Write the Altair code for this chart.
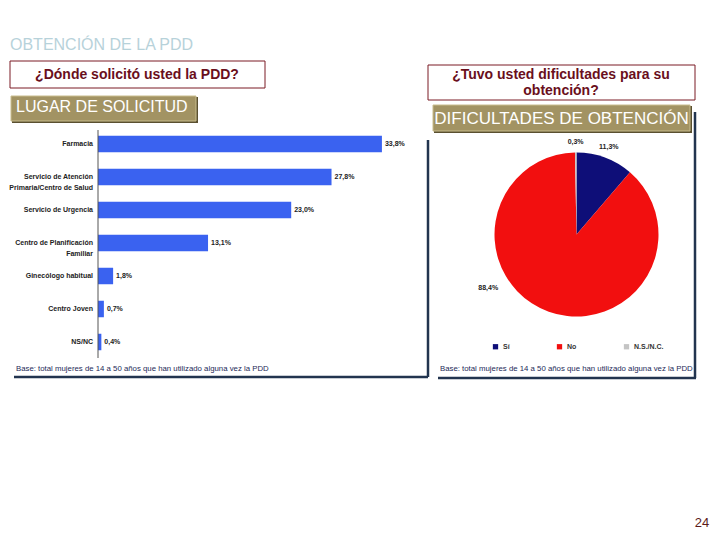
import altair as alt
import pandas as pd

# ---------------- data ----------------
categorias = ["Farmacia", "Servicio de Atención Primaria/Centro de Salud", "Servicio de Urgencia",
              "Centro de Planificación Familiar", "Ginecólogo habitual", "Centro Joven", "NS/NC"]
etiquetas = ["Farmacia", "Servicio de Atención\nPrimaria/Centro de Salud", "Servicio de Urgencia",
             "Centro de Planificación\nFamiliar", "Ginecólogo habitual", "Centro Joven", "NS/NC"]
valores = [33.8, 27.8, 23.0, 13.1, 1.8, 0.7, 0.4]

pie_cats = ["Sí", "No", "N.S./N.C."]
pie_vals = [11.3, 88.4, 0.3]
pie_colors = ["#0e0e78", "#f20f0f", "#c4c4c4"]

titulo = "OBTENCIÓN DE LA PDD"
pregunta1 = "¿Dónde solicitó usted la PDD?"
pregunta2 = ["¿Tuvo usted dificultades para su", "obtención?"]
caja1 = "LUGAR DE SOLICITUD"
caja2 = "DIFICULTADES DE OBTENCIÓN"
base_txt = "Base: total mujeres de 14 a 50 años que han utilizado alguna vez la PDD"
pagina = "24"


def fmt(v):
    return f"{v:.1f}".replace(".", ",") + "%"


bars_df = pd.DataFrame({
    "cat": categorias,
    "etiqueta": etiquetas,
    "valor": valores,
    "txt": [fmt(v) for v in valores],
})
pie_df = pd.DataFrame({
    "cat": pie_cats,
    "valor": pie_vals,
    "idx": list(range(len(pie_cats))),
    "txt": [fmt(v) for v in pie_vals],
})


def P(v):  # page pixel -> chart pixel (8px page margin)
    return v - 8


FONT = "Liberation Sans"
deco = alt.Chart(alt.Data(values=[{}]))

layers = []

# title
layers.append(deco.mark_text(text=titulo, font=FONT, fontSize=16, color="#b7d2da",
                             align="left", baseline="middle")
              .encode(x=alt.value(P(10)), y=alt.value(P(45))))


# question boxes
def qbox(x0, x1, y0, y1):
    return deco.mark_rect(fill="white", stroke="#7b1a24", strokeWidth=1).encode(
        x=alt.value(P(x0)), x2=alt.value(P(x1)), y=alt.value(P(y0)), y2=alt.value(P(y1)))


layers.append(qbox(10, 265, 61, 88))
layers.append(deco.mark_text(text=pregunta1, font=FONT, fontSize=14, fontWeight="bold",
                             color="#6a0f1c", align="center", baseline="middle")
              .encode(x=alt.value(P(137)), y=alt.value(P(75))))
layers.append(qbox(428, 695, 65, 100))
layers.append(deco.mark_text(text=pregunta2, font=FONT, fontSize=14, fontWeight="bold",
                             color="#6a0f1c", align="center", baseline="middle", lineHeight=16)
              .encode(x=alt.value(P(561)), y=alt.value(P(75))))


# gold boxes
def gbox(x0, x1, y0, y1):
    shadow = deco.mark_rect(fill="#5a5030").encode(
        x=alt.value(P(x0 + 1)), x2=alt.value(P(x1 + 2)), y=alt.value(P(y0 + 1)), y2=alt.value(P(y1 + 2)))
    box = deco.mark_rect(fill="#a29363", stroke="#c9bd8e", strokeWidth=1).encode(
        x=alt.value(P(x0)), x2=alt.value(P(x1)), y=alt.value(P(y0)), y2=alt.value(P(y1)))
    return [shadow, box]


layers += gbox(11, 196, 96, 121)
layers.append(deco.mark_text(text=caja1, font=FONT, fontSize=16, color="white",
                             align="left", baseline="middle")
              .encode(x=alt.value(P(16)), y=alt.value(P(107))))
layers += gbox(433, 690, 105, 131)
layers.append(deco.mark_text(text=caja2, font=FONT, fontSize=17, color="white",
                             align="center", baseline="middle")
              .encode(x=alt.value(P(561.5)), y=alt.value(P(119))))

# panel shadow lines
SH = "#22344f"
layers.append(deco.mark_rule(color=SH, strokeWidth=2.5).encode(
    x=alt.value(P(428)), y=alt.value(P(140)), y2=alt.value(P(377))))
layers.append(deco.mark_rule(color=SH, strokeWidth=2.5).encode(
    x=alt.value(P(14)), x2=alt.value(P(428)), y=alt.value(P(377))))
layers.append(deco.mark_rule(color=SH, strokeWidth=2.5).encode(
    x=alt.value(P(695)), y=alt.value(P(112)), y2=alt.value(P(378))))
layers.append(deco.mark_rule(color=SH, strokeWidth=2.5).encode(
    x=alt.value(P(438)), x2=alt.value(P(696)), y=alt.value(P(378))))

# bar chart
xs = alt.Scale(domain=[0, 40], range=[P(98), P(98) + 336])
ys = alt.Scale(domain=categorias, range=[P(127.5), P(358.5)], paddingInner=0.5, paddingOuter=0.25)
bbase = alt.Chart(bars_df)
layers.append(bbase.mark_bar(color="#3a62f0").encode(
    x=alt.X("valor:Q", scale=xs, axis=None),
    y=alt.Y("cat:N", scale=ys, axis=None, sort=categorias)))
layers.append(bbase.mark_text(font=FONT, fontSize=7, fontWeight="bold", color="#222222",
                              align="left", baseline="middle", dx=3).encode(
    x=alt.X("valor:Q", scale=xs, axis=None),
    y=alt.Y("cat:N", scale=ys, axis=None, sort=categorias),
    text="txt:N"))
layers.append(bbase.mark_text(font=FONT, fontSize=7, fontWeight="bold", color="#222222",
                              align="right", baseline="middle", lineBreak="\n", lineHeight=11).encode(
    x=alt.value(P(93)),
    y=alt.Y("cat:N", scale=ys, axis=None, sort=categorias),
    text="etiqueta:N"))
layers.append(deco.mark_rule(color="#555555", strokeWidth=1).encode(
    x=alt.value(P(98)), y=alt.value(P(130)), y2=alt.value(P(358))))

# pie
CX, CY = P(576.5), P(234.5)
pbase = alt.Chart(pie_df)
layers.append(pbase.mark_arc(radius=82).encode(
    theta=alt.Theta("valor:Q", stack=True),
    order=alt.Order("idx:Q"),
    color=alt.Color("cat:N", scale=alt.Scale(domain=pie_cats, range=pie_colors),
                    sort=pie_cats,
                    legend=alt.Legend(title=None, orient="none", legendX=P(492), legendY=P(343),
                                      direction="horizontal", symbolType="square", symbolSize=28,
                                      symbolStrokeWidth=0, labelFont=FONT, labelFontSize=7,
                                      labelFontWeight="bold", labelColor="#333333",
                                      columnPadding=46, labelOffset=4, padding=0)),
    x=alt.value(CX), y=alt.value(CY)))

lab = (pbase.transform_window(cum="sum(valor)", sort=[alt.SortField("idx")], frame=[None, 0])
       .transform_joinaggregate(total="sum(valor)")
       .transform_calculate(mid="(datum.cum - datum.valor/2)/datum.total*2*PI"))
layers.append(lab.transform_filter("datum.cat != 'No'").mark_text(
    radius=93, font=FONT, fontSize=7, fontWeight="bold", color="#222222").encode(
    theta=alt.Theta("mid:Q", scale=None), text="txt:N", x=alt.value(CX), y=alt.value(CY)))
layers.append(lab.transform_filter("datum.cat == 'No'")
              .transform_calculate(ang="datum.mid + 0.684")
              .mark_text(radius=103, font=FONT, fontSize=7, fontWeight="bold", color="#222222").encode(
    theta=alt.Theta("ang:Q", scale=None), text="txt:N", x=alt.value(CX), y=alt.value(CY)))

# base notes
for bx in (16, 440):
    layers.append(deco.mark_text(text=base_txt, font=FONT, fontSize=7.8, color="#1c2a58",
                                 align="left", baseline="middle")
                  .encode(x=alt.value(P(bx)), y=alt.value(P(369))))

# page number
layers.append(deco.mark_text(text=pagina, font=FONT, fontSize=13, color="#5b1a1a",
                             align="center", baseline="middle")
              .encode(x=alt.value(P(702)), y=alt.value(P(523))))

chart = (alt.layer(*layers)
         .resolve_scale(theta="independent")
         .properties(width=704, height=524, autosize=alt.AutoSizeParams(type="none"), padding=0,
                     background="white")
         .configure_view(strokeWidth=0))

chart.save("out.html", embed_options={"renderer": "svg", "actions": False})
